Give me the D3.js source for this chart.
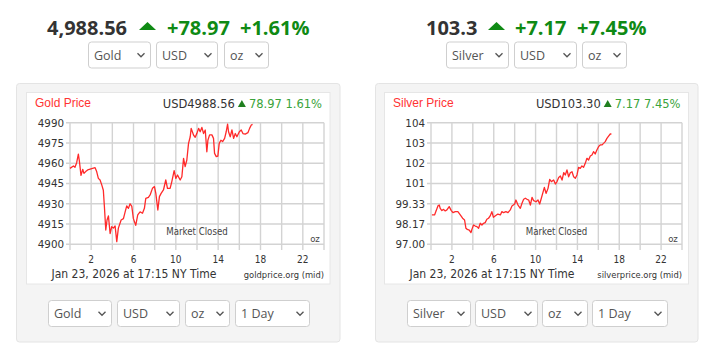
<!DOCTYPE html>
<html>
<head>
<meta charset="utf-8">
<script src="https://cdn.jsdelivr.net/npm/d3@7"></script>
<style>
  body { margin: 0; background: #fff; }
  svg { display: block; }
</style>
</head>
<body>
<div id="chart"></div>
<script>
// hours since midnight (NY time) and spot prices
const goldHours = [0.00, 0.32, 0.47, 0.63, 0.79, 0.88, 1.04, 1.20, 1.32, 1.48, 1.67, 2.37, 2.52, 2.68, 2.84, 3.00,
  3.15, 3.25, 3.38, 3.50, 3.63, 3.79, 3.94, 4.10, 4.26, 4.42, 4.57, 4.83, 5.05, 5.21, 5.36, 5.52, 5.68, 5.84,
  5.99, 6.21, 6.40, 6.62, 6.85, 7.03, 7.16, 7.41, 7.57, 7.79, 7.98, 8.11, 8.30, 8.45, 8.61, 8.83, 9.05, 9.21,
  9.46, 9.62, 9.84, 10.00, 10.16, 10.41, 10.57, 10.73, 10.88, 11.04, 11.20, 11.36, 11.45, 11.67, 11.83, 11.99,
  12.15, 12.30, 12.46, 12.62, 12.78, 12.93, 13.03, 13.19, 13.41, 13.56, 13.66, 13.82, 13.97, 14.10, 14.26,
  14.42, 14.61, 14.76, 14.89, 14.98, 15.14, 15.30, 15.46, 15.62, 15.77, 16.00, 16.18, 16.34, 16.56, 16.81,
  16.97, 17.13, 17.25];
const goldPrices = [4956.2, 4958.0, 4957.0, 4960.4, 4966.8, 4962.0, 4951.0, 4955.5, 4952.5, 4953.8, 4955.0, 4956.7,
  4953.8, 4948.8, 4947.6, 4944.0, 4940.0, 4928.0, 4910.6, 4918.0, 4921.0, 4908.0, 4913.0, 4912.0, 4913.6,
  4902.0, 4912.0, 4918.0, 4919.0, 4924.0, 4928.4, 4926.6, 4930.0, 4928.0, 4919.0, 4914.0, 4921.7, 4924.0,
  4923.0, 4926.6, 4934.0, 4934.8, 4936.5, 4941.4, 4942.7, 4937.7, 4925.4, 4935.3, 4937.7, 4940.2, 4947.6,
  4941.4, 4941.4, 4946.4, 4954.5, 4948.8, 4951.3, 4947.6, 4950.0, 4963.6, 4957.5, 4962.4, 4974.7, 4979.6,
  4985.8, 4980.9, 4979.2, 4982.1, 4985.8, 4983.3, 4986.5, 4982.0, 4984.6, 4968.5, 4977.0, 4981.0, 4981.0,
  4978.4, 4967.3, 4964.9, 4965.3, 4974.7, 4977.0, 4976.0, 4978.4, 4983.3, 4989.0, 4983.3, 4979.6, 4984.6,
  4978.4, 4982.0, 4979.6, 4983.3, 4984.6, 4982.0, 4981.6, 4982.6, 4985.8, 4988.3, 4988.8];

const silverHours = [0.09, 0.34, 0.50, 0.66, 0.79, 0.88, 1.04, 1.20, 1.36, 1.52, 1.74, 1.94, 2.10, 2.32, 2.57, 2.80,
  3.02, 3.21, 3.34, 3.47, 3.66, 3.82, 3.91, 4.07, 4.23, 4.39, 4.55, 4.71, 4.87, 5.02, 5.18, 5.34, 5.50, 5.66,
  5.82, 5.97, 6.13, 6.39, 6.63, 6.78, 6.94, 7.16, 7.36, 7.58, 7.74, 8.00, 8.12, 8.32, 8.54, 8.70, 8.86, 9.02,
  9.18, 9.34, 9.50, 9.66, 9.82, 10.04, 10.23, 10.39, 10.55, 10.68, 10.84, 11.00, 11.19, 11.35, 11.51, 11.73,
  11.89, 12.05, 12.21, 12.37, 12.53, 12.69, 12.84, 13.00, 13.16, 13.32, 13.48, 13.64, 13.80, 13.96, 14.11,
  14.27, 14.43, 14.59, 14.75, 14.91, 15.07, 15.23, 15.39, 15.54, 15.70, 15.86, 16.02, 16.18, 16.34, 16.50,
  16.66, 16.82, 16.98, 17.14, 17.25];
const silverPrices = [98.69, 98.69, 98.94, 99.21, 99.26, 99.07, 98.94, 99.01, 98.92, 98.98, 99.17, 98.94, 98.82,
  98.88, 98.88, 98.69, 98.50, 98.40, 97.92, 97.86, 97.82, 97.67, 97.86, 98.11, 98.05, 98.02, 97.92, 98.21,
  98.11, 98.21, 98.25, 98.44, 98.50, 98.63, 98.88, 98.55, 98.63, 98.74, 98.69, 98.88, 98.82, 98.88, 98.82,
  98.98, 99.21, 99.32, 99.55, 99.26, 99.07, 99.36, 99.59, 99.65, 99.59, 99.55, 99.26, 99.70, 99.51, 99.45,
  99.55, 99.32, 99.65, 99.93, 100.28, 99.93, 100.22, 100.74, 100.61, 100.70, 100.47, 100.61, 100.85, 100.93,
  100.70, 101.12, 100.99, 101.28, 100.89, 101.12, 101.18, 100.89, 100.80, 100.99, 101.43, 101.37, 101.51,
  101.43, 101.66, 101.95, 101.85, 102.08, 102.14, 102.33, 102.20, 102.43, 102.62, 102.72, 102.72, 102.81,
  102.91, 103.10, 103.23, 103.35, 103.35];

const hourGrid = [0, 2, 4, 6, 8, 10, 12, 14, 16, 18, 20, 22, 24];
const hourTicks = [2, 6, 10, 14, 18, 22];
const goldYTicks = [4900, 4915, 4930, 4945, 4960, 4975, 4990];
const goldYLabels = ['4900', '4915', '4930', '4945', '4960', '4975', '4990'];
const silverYTicks = [97, 98.17, 99.33, 100.5, 101.67, 102.83, 104];
const silverYLabels = ['97.00', '98.17', '99.33', '101', '102', '103', '104'];

const bigGreen = '#0f8a14';
const chartFont = '"DejaVu Sans", Verdana, sans-serif';
const narrowFont = '"DejaVu Sans Condensed", "DejaVu Sans", Verdana, sans-serif';
const uiFont = '"Open Sans", sans-serif';

const panels = [
  {
    hours: goldHours, prices: goldPrices, yTicks: goldYTicks, yLabels: goldYLabels,
    price: '4,988.56', change: '+78.97', pct: '+1.61%',
    priceX: 47, triX: 139, changeX: 167, pctX: 240,
    topSelects: [['Gold', 88, 63], ['USD', 156, 62], ['oz', 224, 45]],
    botSelects: [['Gold', 48, 64], ['USD', 117, 63], ['oz', 185, 45], ['1 Day', 235, 75]],
    outer: [16.5, 323.5], inner: [26.5, 303.5], plot: [70, 324],
    title: 'Gold Price', quote: 'USD4988.56', quoteChange: '78.97 1.61%', source: 'goldprice.org (mid)'
  },
  {
    hours: silverHours, prices: silverPrices, yTicks: silverYTicks, yLabels: silverYLabels,
    price: '103.3', change: '+7.17', pct: '+7.45%',
    priceX: 426, triX: 488, changeX: 515, pctX: 577,
    topSelects: [['Silver', 446, 63], ['USD', 514, 63], ['oz', 582, 45]],
    botSelects: [['Silver', 407, 64], ['USD', 475, 63], ['oz', 542, 46], ['1 Day', 592, 76]],
    outer: [375.5, 322.5], inner: [384.5, 304], plot: [431, 682],
    title: 'Silver Price', quote: 'USD103.30', quoteChange: '7.17 7.45%', source: 'silverprice.org (mid)'
  }
];

const svg = d3.select('#chart').append('svg')
  .attr('width', 718)
  .attr('height', 362);

function drawSelect(g, label, x, y, w, h) {
  g.append('rect')
    .attr('x', x + 0.5).attr('y', y + 0.5)
    .attr('width', w - 1).attr('height', h - 1)
    .attr('rx', 3)
    .attr('fill', '#fff')
    .attr('stroke', '#cfcfcf');
  g.append('text')
    .attr('x', x + 6).attr('y', y + h / 2 + 4.5)
    .attr('font-family', uiFont).attr('font-size', 12.5)
    .attr('fill', '#555')
    .text(label);
  const cx = x + w - 10;
  const cy = y + h / 2;
  g.append('path')
    .attr('d', `M${cx - 3.5},${cy - 1.8}L${cx},${cy + 1.8}L${cx + 3.5},${cy - 1.8}`)
    .attr('fill', 'none')
    .attr('stroke', '#555')
    .attr('stroke-width', 1.3);
}

panels.forEach(p => {
  const g = svg.append('g');

  // big price headline
  g.append('text')
    .attr('x', p.priceX).attr('y', 35)
    .attr('font-family', uiFont).attr('font-weight', 700).attr('font-size', 20)
    .attr('fill', '#333')
    .text(p.price);
  g.append('path')
    .attr('d', `M${p.triX},30L${p.triX + 17},30L${p.triX + 8.5},22Z`)
    .attr('fill', bigGreen);
  g.append('text')
    .attr('x', p.changeX).attr('y', 35)
    .attr('font-family', uiFont).attr('font-weight', 700).attr('font-size', 20)
    .attr('fill', bigGreen)
    .text(p.change);
  g.append('text')
    .attr('x', p.pctX).attr('y', 35)
    .attr('font-family', uiFont).attr('font-weight', 700).attr('font-size', 20)
    .attr('fill', bigGreen)
    .text(p.pct);

  p.topSelects.forEach(s => drawSelect(g, s[0], s[1], 41.5, s[2], 27));

  // panel boxes
  g.append('rect')
    .attr('x', p.outer[0]).attr('y', 83.5)
    .attr('width', p.outer[1]).attr('height', 258.5)
    .attr('rx', 3)
    .attr('fill', '#f4f4f4')
    .attr('stroke', '#e4e4e4');
  g.append('rect')
    .attr('x', p.inner[0]).attr('y', 92.5)
    .attr('width', p.inner[1]).attr('height', 191.5)
    .attr('fill', '#fff')
    .attr('stroke', '#e6e6e6');

  p.botSelects.forEach(s => drawSelect(g, s[0], s[1], 300, s[2], 27));

  // chart
  const x = d3.scaleLinear().domain([0, 24]).range(p.plot);
  const y = d3.scaleLinear().domain([p.yTicks[0], p.yTicks[p.yTicks.length - 1]]).range([244.3, 122.7]);

  g.append('g').selectAll('line')
    .data(hourGrid)
    .enter()
    .append('line')
    .attr('x1', d => x(d)).attr('x2', d => x(d))
    .attr('y1', 122.7).attr('y2', 250)
    .attr('stroke', '#d3d3d3')
    .attr('stroke-width', 1.4);

  g.append('g').selectAll('line')
    .data(p.yTicks)
    .enter()
    .append('line')
    .attr('x1', p.plot[0] - 4).attr('x2', p.plot[1])
    .attr('y1', d => y(d)).attr('y2', d => y(d))
    .attr('stroke', '#d3d3d3')
    .attr('stroke-width', 1.4);

  g.append('g').selectAll('text')
    .data(p.yTicks)
    .enter()
    .append('text')
    .attr('x', p.plot[0] - 6)
    .attr('y', d => y(d) + 3.8)
    .attr('text-anchor', 'end')
    .attr('font-family', chartFont).attr('font-size', 10.3)
    .attr('fill', '#333')
    .text((d, i) => p.yLabels[i]);

  g.append('g').selectAll('text')
    .data(hourTicks)
    .enter()
    .append('text')
    .attr('x', d => x(d))
    .attr('y', 263)
    .attr('text-anchor', 'middle')
    .attr('font-family', narrowFont).attr('font-stretch', 'condensed').attr('font-size', 10)
    .attr('fill', '#333')
    .text(d => d);

  const line = d3.line()
    .x((d, i) => x(p.hours[i]))
    .y(d => y(d));

  g.append('path')
    .datum(p.prices)
    .attr('d', line)
    .attr('fill', 'none')
    .attr('stroke', '#ff2a2a')
    .attr('stroke-width', 1.3)
    .attr('stroke-linejoin', 'round');

  const mid = (p.plot[0] + p.plot[1]) / 2;
  g.append('text')
    .attr('x', mid).attr('y', 235)
    .attr('text-anchor', 'middle')
    .attr('font-family', narrowFont).attr('font-stretch', 'condensed').attr('font-size', 9.6)
    .attr('fill', '#444')
    .text('Market Closed');
  g.append('text')
    .attr('x', p.plot[1] - 9).attr('y', 242)
    .attr('text-anchor', 'middle')
    .attr('font-family', narrowFont).attr('font-stretch', 'condensed').attr('font-size', 9.5)
    .attr('fill', '#444')
    .text('oz');

  // chart heading
  g.append('text')
    .attr('x', p.inner[0] + 8.5).attr('y', 107)
    .attr('font-family', '"Liberation Sans", Arial, sans-serif').attr('font-size', 12)
    .attr('fill', '#ff3333')
    .text(p.title);
  const right = p.inner[0] + p.inner[1] - 8;
  const qc = g.append('text')
    .attr('x', right).attr('y', 108)
    .attr('text-anchor', 'end')
    .attr('font-family', chartFont).attr('font-size', 11.5)
    .attr('fill', '#3aa33a')
    .text(p.quoteChange);
  const qcw = qc.node().getComputedTextLength();
  g.append('path')
    .attr('d', `M${right - qcw - 11},107L${right - qcw - 3},107L${right - qcw - 7},100Z`)
    .attr('fill', '#1f7f1f');
  g.append('text')
    .attr('x', right - qcw - 14).attr('y', 108)
    .attr('text-anchor', 'end')
    .attr('font-family', chartFont).attr('font-size', 11.5)
    .attr('fill', '#333')
    .text(p.quote);

  // footer
  g.append('text')
    .attr('x', p.inner[0] + 25).attr('y', 277.5)
    .attr('font-family', narrowFont).attr('font-stretch', 'condensed').attr('font-size', 12)
    .attr('fill', '#333')
    .text('Jan 23, 2026 at 17:15 NY Time');
  g.append('text')
    .attr('x', p.plot[1]).attr('y', 277.5)
    .attr('text-anchor', 'end')
    .attr('font-family', narrowFont).attr('font-stretch', 'condensed').attr('font-size', 9.3)
    .attr('fill', '#333')
    .text(p.source);
});
</script>
</body>
</html>
